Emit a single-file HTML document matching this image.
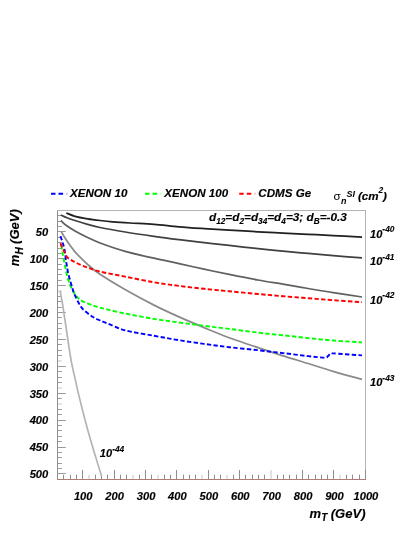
<!DOCTYPE html>
<html><head><meta charset="utf-8"><title>plot</title>
<style>
html,body{margin:0;padding:0;background:#fff;}
body{width:415px;height:537px;overflow:hidden;}
svg{display:block;will-change:transform;font-family:"Liberation Sans",sans-serif;font-weight:bold;font-style:italic;fill:#000;}
text{stroke:#000;stroke-width:0.15px;}
</style></head><body>
<svg width="415" height="537" viewBox="0 0 415 537">
<rect width="415" height="537" fill="#fff"/>
<line x1="57.5" y1="210" x2="57.5" y2="480" stroke="#8e8e8e" stroke-width="1"/>
<line x1="57" y1="210.5" x2="366" y2="210.5" stroke="#b4b4b4" stroke-width="1"/>
<line x1="365.5" y1="210" x2="365.5" y2="480" stroke="#b2b2b2" stroke-width="1"/>
<line x1="57" y1="479.5" x2="366" y2="479.5" stroke="#b07a76" stroke-width="1"/>
<line x1="58" y1="215.50" x2="61.80" y2="215.50" stroke="#9a9a9a" stroke-width="1"/>
<line x1="58" y1="221.50" x2="61.80" y2="221.50" stroke="#9a9a9a" stroke-width="1"/>
<line x1="58" y1="226.50" x2="61.80" y2="226.50" stroke="#9a9a9a" stroke-width="1"/>
<line x1="58" y1="231.50" x2="65.80" y2="231.50" stroke="#9a9a9a" stroke-width="1"/>
<line x1="58" y1="237.50" x2="61.80" y2="237.50" stroke="#9a9a9a" stroke-width="1"/>
<line x1="58" y1="242.50" x2="61.80" y2="242.50" stroke="#9a9a9a" stroke-width="1"/>
<line x1="58" y1="248.50" x2="61.80" y2="248.50" stroke="#9a9a9a" stroke-width="1"/>
<line x1="58" y1="253.50" x2="61.80" y2="253.50" stroke="#9a9a9a" stroke-width="1"/>
<line x1="58" y1="258.50" x2="65.80" y2="258.50" stroke="#9a9a9a" stroke-width="1"/>
<line x1="58" y1="264.50" x2="61.80" y2="264.50" stroke="#9a9a9a" stroke-width="1"/>
<line x1="58" y1="269.50" x2="61.80" y2="269.50" stroke="#9a9a9a" stroke-width="1"/>
<line x1="58" y1="274.50" x2="61.80" y2="274.50" stroke="#9a9a9a" stroke-width="1"/>
<line x1="58" y1="280.50" x2="61.80" y2="280.50" stroke="#9a9a9a" stroke-width="1"/>
<line x1="58" y1="285.50" x2="65.80" y2="285.50" stroke="#9a9a9a" stroke-width="1"/>
<line x1="58" y1="291.00" x2="61.80" y2="291.00" stroke="#e2e2e2" stroke-width="2"/>
<line x1="58" y1="296.50" x2="61.80" y2="296.50" stroke="#9a9a9a" stroke-width="1"/>
<line x1="58" y1="301.50" x2="61.80" y2="301.50" stroke="#9a9a9a" stroke-width="1"/>
<line x1="58" y1="307.50" x2="61.80" y2="307.50" stroke="#9a9a9a" stroke-width="1"/>
<line x1="58" y1="312.50" x2="65.80" y2="312.50" stroke="#9a9a9a" stroke-width="1"/>
<line x1="58" y1="317.50" x2="61.80" y2="317.50" stroke="#9a9a9a" stroke-width="1"/>
<line x1="58" y1="323.50" x2="61.80" y2="323.50" stroke="#9a9a9a" stroke-width="1"/>
<line x1="58" y1="328.50" x2="61.80" y2="328.50" stroke="#9a9a9a" stroke-width="1"/>
<line x1="58" y1="334.00" x2="61.80" y2="334.00" stroke="#e2e2e2" stroke-width="2"/>
<line x1="58" y1="339.50" x2="65.80" y2="339.50" stroke="#9a9a9a" stroke-width="1"/>
<line x1="58" y1="344.50" x2="61.80" y2="344.50" stroke="#9a9a9a" stroke-width="1"/>
<line x1="58" y1="350.50" x2="61.80" y2="350.50" stroke="#9a9a9a" stroke-width="1"/>
<line x1="58" y1="355.50" x2="61.80" y2="355.50" stroke="#9a9a9a" stroke-width="1"/>
<line x1="58" y1="361.00" x2="61.80" y2="361.00" stroke="#e2e2e2" stroke-width="2"/>
<line x1="58" y1="366.50" x2="65.80" y2="366.50" stroke="#9a9a9a" stroke-width="1"/>
<line x1="58" y1="371.50" x2="61.80" y2="371.50" stroke="#9a9a9a" stroke-width="1"/>
<line x1="58" y1="377.50" x2="61.80" y2="377.50" stroke="#9a9a9a" stroke-width="1"/>
<line x1="58" y1="382.50" x2="61.80" y2="382.50" stroke="#9a9a9a" stroke-width="1"/>
<line x1="58" y1="388.00" x2="61.80" y2="388.00" stroke="#e2e2e2" stroke-width="2"/>
<line x1="58" y1="393.50" x2="65.80" y2="393.50" stroke="#9a9a9a" stroke-width="1"/>
<line x1="58" y1="398.50" x2="61.80" y2="398.50" stroke="#9a9a9a" stroke-width="1"/>
<line x1="58" y1="404.00" x2="61.80" y2="404.00" stroke="#e2e2e2" stroke-width="2"/>
<line x1="58" y1="409.50" x2="61.80" y2="409.50" stroke="#9a9a9a" stroke-width="1"/>
<line x1="58" y1="414.50" x2="61.80" y2="414.50" stroke="#9a9a9a" stroke-width="1"/>
<line x1="58" y1="420.50" x2="65.80" y2="420.50" stroke="#9a9a9a" stroke-width="1"/>
<line x1="58" y1="425.50" x2="61.80" y2="425.50" stroke="#9a9a9a" stroke-width="1"/>
<line x1="58" y1="430.50" x2="61.80" y2="430.50" stroke="#9a9a9a" stroke-width="1"/>
<line x1="58" y1="436.50" x2="61.80" y2="436.50" stroke="#9a9a9a" stroke-width="1"/>
<line x1="58" y1="441.50" x2="61.80" y2="441.50" stroke="#9a9a9a" stroke-width="1"/>
<line x1="58" y1="447.50" x2="65.80" y2="447.50" stroke="#9a9a9a" stroke-width="1"/>
<line x1="58" y1="452.50" x2="61.80" y2="452.50" stroke="#9a9a9a" stroke-width="1"/>
<line x1="58" y1="457.50" x2="61.80" y2="457.50" stroke="#9a9a9a" stroke-width="1"/>
<line x1="58" y1="463.50" x2="61.80" y2="463.50" stroke="#9a9a9a" stroke-width="1"/>
<line x1="58" y1="468.50" x2="61.80" y2="468.50" stroke="#9a9a9a" stroke-width="1"/>
<line x1="58" y1="473.50" x2="65.80" y2="473.50" stroke="#9a9a9a" stroke-width="1"/>
<line x1="63.50" y1="479" x2="63.50" y2="474.70" stroke="#8e8e8e" stroke-width="1"/>
<line x1="70.50" y1="479" x2="70.50" y2="474.70" stroke="#8e8e8e" stroke-width="1"/>
<line x1="76.50" y1="479" x2="76.50" y2="474.70" stroke="#8e8e8e" stroke-width="1"/>
<line x1="82.50" y1="479" x2="82.50" y2="470.00" stroke="#8e8e8e" stroke-width="1"/>
<line x1="89.00" y1="479" x2="89.00" y2="474.70" stroke="#e2e2e2" stroke-width="2"/>
<line x1="95.50" y1="479" x2="95.50" y2="474.70" stroke="#8e8e8e" stroke-width="1"/>
<line x1="101.50" y1="479" x2="101.50" y2="474.70" stroke="#8e8e8e" stroke-width="1"/>
<line x1="107.50" y1="479" x2="107.50" y2="474.70" stroke="#8e8e8e" stroke-width="1"/>
<line x1="114.50" y1="479" x2="114.50" y2="470.00" stroke="#8e8e8e" stroke-width="1"/>
<line x1="120.50" y1="479" x2="120.50" y2="474.70" stroke="#8e8e8e" stroke-width="1"/>
<line x1="126.50" y1="479" x2="126.50" y2="474.70" stroke="#8e8e8e" stroke-width="1"/>
<line x1="133.00" y1="479" x2="133.00" y2="474.70" stroke="#e2e2e2" stroke-width="2"/>
<line x1="139.50" y1="479" x2="139.50" y2="474.70" stroke="#8e8e8e" stroke-width="1"/>
<line x1="145.50" y1="479" x2="145.50" y2="470.00" stroke="#8e8e8e" stroke-width="1"/>
<line x1="151.50" y1="479" x2="151.50" y2="474.70" stroke="#8e8e8e" stroke-width="1"/>
<line x1="158.00" y1="479" x2="158.00" y2="474.70" stroke="#e2e2e2" stroke-width="2"/>
<line x1="164.50" y1="479" x2="164.50" y2="474.70" stroke="#8e8e8e" stroke-width="1"/>
<line x1="170.50" y1="479" x2="170.50" y2="474.70" stroke="#8e8e8e" stroke-width="1"/>
<line x1="176.50" y1="479" x2="176.50" y2="470.00" stroke="#8e8e8e" stroke-width="1"/>
<line x1="183.50" y1="479" x2="183.50" y2="474.70" stroke="#8e8e8e" stroke-width="1"/>
<line x1="189.50" y1="479" x2="189.50" y2="474.70" stroke="#8e8e8e" stroke-width="1"/>
<line x1="195.50" y1="479" x2="195.50" y2="474.70" stroke="#8e8e8e" stroke-width="1"/>
<line x1="202.00" y1="479" x2="202.00" y2="474.70" stroke="#e2e2e2" stroke-width="2"/>
<line x1="208.50" y1="479" x2="208.50" y2="470.00" stroke="#8e8e8e" stroke-width="1"/>
<line x1="214.50" y1="479" x2="214.50" y2="474.70" stroke="#8e8e8e" stroke-width="1"/>
<line x1="220.50" y1="479" x2="220.50" y2="474.70" stroke="#8e8e8e" stroke-width="1"/>
<line x1="227.00" y1="479" x2="227.00" y2="474.70" stroke="#e2e2e2" stroke-width="2"/>
<line x1="233.50" y1="479" x2="233.50" y2="474.70" stroke="#8e8e8e" stroke-width="1"/>
<line x1="239.50" y1="479" x2="239.50" y2="470.00" stroke="#8e8e8e" stroke-width="1"/>
<line x1="245.50" y1="479" x2="245.50" y2="474.70" stroke="#8e8e8e" stroke-width="1"/>
<line x1="252.50" y1="479" x2="252.50" y2="474.70" stroke="#8e8e8e" stroke-width="1"/>
<line x1="258.50" y1="479" x2="258.50" y2="474.70" stroke="#8e8e8e" stroke-width="1"/>
<line x1="264.50" y1="479" x2="264.50" y2="474.70" stroke="#8e8e8e" stroke-width="1"/>
<line x1="271.00" y1="479" x2="271.00" y2="470.00" stroke="#e2e2e2" stroke-width="2"/>
<line x1="277.50" y1="479" x2="277.50" y2="474.70" stroke="#8e8e8e" stroke-width="1"/>
<line x1="283.50" y1="479" x2="283.50" y2="474.70" stroke="#8e8e8e" stroke-width="1"/>
<line x1="289.50" y1="479" x2="289.50" y2="474.70" stroke="#8e8e8e" stroke-width="1"/>
<line x1="296.50" y1="479" x2="296.50" y2="474.70" stroke="#8e8e8e" stroke-width="1"/>
<line x1="302.50" y1="479" x2="302.50" y2="470.00" stroke="#8e8e8e" stroke-width="1"/>
<line x1="308.50" y1="479" x2="308.50" y2="474.70" stroke="#8e8e8e" stroke-width="1"/>
<line x1="315.50" y1="479" x2="315.50" y2="474.70" stroke="#8e8e8e" stroke-width="1"/>
<line x1="321.50" y1="479" x2="321.50" y2="474.70" stroke="#8e8e8e" stroke-width="1"/>
<line x1="327.50" y1="479" x2="327.50" y2="474.70" stroke="#8e8e8e" stroke-width="1"/>
<line x1="333.50" y1="479" x2="333.50" y2="470.00" stroke="#8e8e8e" stroke-width="1"/>
<line x1="340.00" y1="479" x2="340.00" y2="474.70" stroke="#e2e2e2" stroke-width="2"/>
<line x1="346.50" y1="479" x2="346.50" y2="474.70" stroke="#8e8e8e" stroke-width="1"/>
<line x1="352.50" y1="479" x2="352.50" y2="474.70" stroke="#8e8e8e" stroke-width="1"/>
<line x1="359.50" y1="479" x2="359.50" y2="474.70" stroke="#8e8e8e" stroke-width="1"/>
<line x1="365.50" y1="479" x2="365.50" y2="470.00" stroke="#8e8e8e" stroke-width="1"/>
<path d="M66.30 213.00 C67.75 213.55 71.45 215.33 75.00 216.30 C78.55 217.27 83.42 218.10 87.60 218.80 C91.78 219.50 95.92 220.00 100.10 220.50 C104.28 221.00 107.72 221.38 112.70 221.80 C117.68 222.22 123.12 222.58 130.00 223.00 C136.88 223.42 145.83 223.67 154.00 224.30 C162.17 224.93 170.65 226.08 179.00 226.80 C187.35 227.52 195.73 228.05 204.10 228.60 C212.47 229.15 220.22 229.57 229.20 230.10 C238.18 230.63 249.03 231.30 258.00 231.80 C266.97 232.30 274.65 232.68 283.00 233.10 C291.35 233.52 299.73 233.88 308.10 234.30 C316.47 234.72 324.22 235.13 333.20 235.60 C342.18 236.07 357.20 236.85 362.00 237.10" fill="none" stroke="#202020" stroke-width="1.75" stroke-linecap="butt" stroke-linejoin="round"/>
<path d="M60.80 215.00 C61.83 215.47 64.63 216.88 67.00 217.80 C69.37 218.72 71.57 219.42 75.00 220.50 C78.43 221.58 83.43 223.13 87.60 224.30 C91.77 225.47 93.73 226.22 100.00 227.50 C106.27 228.78 116.20 230.53 125.20 232.00 C134.20 233.47 145.03 235.03 154.00 236.30 C162.97 237.57 170.65 238.55 179.00 239.60 C187.35 240.65 195.73 241.63 204.10 242.60 C212.47 243.57 220.22 244.40 229.20 245.40 C238.18 246.40 249.03 247.65 258.00 248.60 C266.97 249.55 274.65 250.30 283.00 251.10 C291.35 251.90 299.73 252.65 308.10 253.40 C316.47 254.15 324.22 254.85 333.20 255.60 C342.18 256.35 357.20 257.52 362.00 257.90" fill="none" stroke="#404040" stroke-width="1.75" stroke-linecap="butt" stroke-linejoin="round"/>
<path d="M60.80 220.50 C61.62 221.25 63.33 223.25 65.70 225.00 C68.07 226.75 71.35 228.92 75.00 231.00 C78.65 233.08 83.42 235.50 87.60 237.50 C91.78 239.50 93.83 240.68 100.10 243.00 C106.37 245.32 116.22 248.87 125.20 251.40 C134.18 253.93 145.03 256.17 154.00 258.20 C162.97 260.23 170.65 261.77 179.00 263.60 C187.35 265.43 195.73 267.40 204.10 269.20 C212.47 271.00 220.22 272.60 229.20 274.40 C238.18 276.20 249.03 278.37 258.00 280.00 C266.97 281.63 274.65 282.78 283.00 284.20 C291.35 285.62 299.73 287.08 308.10 288.50 C316.47 289.92 324.22 291.28 333.20 292.70 C342.18 294.12 357.20 296.28 362.00 297.00" fill="none" stroke="#606060" stroke-width="1.75" stroke-linecap="butt" stroke-linejoin="round"/>
<path d="M61.30 231.60 C62.13 233.00 64.02 236.63 66.30 240.00 C68.58 243.37 71.45 247.73 75.00 251.80 C78.55 255.87 83.43 260.65 87.60 264.40 C91.77 268.15 93.77 270.12 100.00 274.30 C106.23 278.48 116.00 284.37 125.00 289.50 C134.00 294.63 145.00 300.53 154.00 305.10 C163.00 309.67 170.65 313.15 179.00 316.90 C187.35 320.65 195.73 324.13 204.10 327.60 C212.47 331.07 220.22 334.37 229.20 337.70 C238.18 341.03 249.03 344.58 258.00 347.60 C266.97 350.62 274.65 353.15 283.00 355.80 C291.35 358.45 299.73 360.90 308.10 363.50 C316.47 366.10 324.22 368.75 333.20 371.40 C342.18 374.05 357.20 378.07 362.00 379.40" fill="none" stroke="#8a8a8a" stroke-width="1.75" stroke-linecap="butt" stroke-linejoin="round"/>
<path d="M60.20 291.00 C60.38 292.05 60.92 295.17 61.30 297.30 C61.68 299.43 61.98 300.63 62.50 303.80 C63.02 306.97 63.77 312.12 64.40 316.30 C65.03 320.48 65.67 324.62 66.30 328.90 C66.93 333.18 67.37 336.60 68.20 342.00 C69.03 347.40 70.15 355.17 71.30 361.30 C72.45 367.43 73.85 373.17 75.10 378.80 C76.35 384.43 77.42 389.32 78.80 395.10 C80.18 400.88 81.73 407.05 83.40 413.50 C85.07 419.95 86.85 426.87 88.80 433.80 C90.75 440.73 92.97 448.03 95.10 455.10 C97.23 462.17 100.52 472.68 101.60 476.20" fill="none" stroke="#b4b4b4" stroke-width="1.7" stroke-linecap="butt" stroke-linejoin="round"/>
<path d="M61.30 245.00 C61.50 246.27 61.98 249.67 62.50 252.60 C63.02 255.53 63.77 259.27 64.40 262.60 C65.03 265.93 65.57 269.47 66.30 272.60 C67.03 275.73 68.07 279.07 68.80 281.40 C69.53 283.73 69.87 284.75 70.70 286.60 C71.53 288.45 72.65 290.68 73.80 292.50 C74.95 294.32 76.13 296.03 77.60 297.50 C79.07 298.97 80.52 300.15 82.60 301.30 C84.68 302.45 87.60 303.47 90.10 304.40 C92.60 305.33 94.78 306.07 97.60 306.90 C100.42 307.73 102.43 308.30 107.00 309.40 C111.57 310.50 117.17 311.92 125.00 313.50 C132.83 315.08 145.00 317.40 154.00 318.90 C163.00 320.40 170.65 321.35 179.00 322.50 C187.35 323.65 195.73 324.73 204.10 325.80 C212.47 326.87 220.22 327.77 229.20 328.90 C238.18 330.03 249.03 331.53 258.00 332.60 C266.97 333.67 274.67 334.38 283.00 335.30 C291.33 336.22 299.63 337.23 308.00 338.10 C316.37 338.97 324.20 339.78 333.20 340.50 C342.20 341.22 357.20 342.08 362.00 342.40" fill="none" stroke="#00ff00" stroke-width="1.9" stroke-dasharray="4.4 2.3" stroke-linejoin="round"/>
<path d="M60.40 236.10 C60.67 236.83 61.52 239.07 62.00 240.50 C62.48 241.93 62.90 243.28 63.30 244.70 C63.70 246.12 64.08 247.45 64.40 249.00 C64.72 250.55 64.95 252.17 65.20 254.00 C65.45 255.83 65.60 257.92 65.90 260.00 C66.20 262.08 66.65 264.42 67.00 266.50 C67.35 268.58 67.47 270.15 68.00 272.50 C68.53 274.85 69.48 278.02 70.20 280.60 C70.92 283.18 71.65 285.88 72.30 288.00 C72.95 290.12 73.17 291.05 74.10 293.30 C75.03 295.55 76.48 298.92 77.90 301.50 C79.32 304.08 80.57 306.53 82.60 308.80 C84.63 311.07 87.60 313.32 90.10 315.10 C92.60 316.88 94.78 318.15 97.60 319.50 C100.42 320.85 102.43 321.40 107.00 323.20 C111.57 325.00 117.17 328.20 125.00 330.30 C132.83 332.40 145.00 334.15 154.00 335.80 C163.00 337.45 170.65 338.85 179.00 340.20 C187.35 341.55 195.73 342.73 204.10 343.90 C212.47 345.07 220.22 346.15 229.20 347.20 C238.18 348.25 249.03 349.22 258.00 350.20 C266.97 351.18 274.65 352.12 283.00 353.10 C291.35 354.08 301.17 355.33 308.10 356.10 C315.03 356.87 321.35 357.65 324.60 357.70 C327.85 357.75 326.63 357.07 327.60 356.40 C328.57 355.73 329.50 354.20 330.40 353.70 C331.30 353.20 330.57 353.32 333.00 353.40 C335.43 353.48 340.17 353.87 345.00 354.20 C349.83 354.53 359.17 355.20 362.00 355.40" fill="none" stroke="#0000ff" stroke-width="1.9" stroke-dasharray="4.4 2.3" stroke-linejoin="round"/>
<path d="M60.50 243.20 C60.80 243.97 61.73 246.50 62.30 247.80 C62.87 249.10 63.37 249.93 63.90 251.00 C64.43 252.07 65.00 253.22 65.50 254.20 C66.00 255.18 66.27 256.12 66.90 256.90 C67.53 257.68 68.27 258.20 69.30 258.90 C70.33 259.60 72.05 260.52 73.10 261.10 C74.15 261.68 74.55 261.87 75.60 262.40 C76.65 262.93 77.40 263.43 79.40 264.30 C81.40 265.17 84.17 266.38 87.60 267.60 C91.03 268.82 93.77 270.10 100.00 271.60 C106.23 273.10 116.00 274.82 125.00 276.60 C134.00 278.38 145.00 280.75 154.00 282.30 C163.00 283.85 170.65 284.82 179.00 285.90 C187.35 286.98 195.73 287.90 204.10 288.80 C212.47 289.70 220.22 290.43 229.20 291.30 C238.18 292.17 249.03 293.18 258.00 294.00 C266.97 294.82 274.65 295.50 283.00 296.20 C291.35 296.90 299.73 297.53 308.10 298.20 C316.47 298.87 324.22 299.53 333.20 300.20 C342.18 300.87 357.20 301.87 362.00 302.20" fill="none" stroke="#ff0000" stroke-width="1.9" stroke-dasharray="4.4 2.3" stroke-linejoin="round"/>
<path d="M51.00 193.8h4.5m3 0h4.6" stroke="#0000ff" stroke-width="1.9"/>
<path d="M66.00 193.8h2" stroke="#c8c8ff" stroke-width="1.9"/>
<path d="M145.00 193.8h4.5m3 0h4.6" stroke="#00ff00" stroke-width="1.9"/>
<path d="M160.00 193.8h2" stroke="#c8ffc8" stroke-width="1.9"/>
<path d="M239.20 193.8h4.5m3 0h4.6" stroke="#ff0000" stroke-width="1.9"/>
<path d="M254.20 193.8h2" stroke="#ffc8c8" stroke-width="1.9"/>
<text x="70.00" y="196.80" font-size="11.6" text-anchor="start" >XENON 10</text>
<text x="164.30" y="196.80" font-size="11.6" text-anchor="start" >XENON 100</text>
<text x="258.30" y="196.80" font-size="11.6" text-anchor="start" >CDMS Ge</text>
<text font-size="11.6"><tspan x="333.6" y="199.5" font-weight="normal" font-style="normal" stroke-width="0">σ</tspan><tspan x="341.0" y="203.6" font-size="9" stroke-width="0">n</tspan><tspan x="346.4" y="196.9" font-size="9" stroke-width="0">SI</tspan><tspan x="358.0" y="199.5">(cm</tspan><tspan x="378.5" y="193.4" font-size="8.5" stroke-width="0">2</tspan><tspan x="383.0" y="199.5">)</tspan></text>
<text x="209" y="220.9" font-size="11.8">d<tspan font-size="8.2" dy="3.4">12</tspan><tspan dy="-3.4">=d</tspan><tspan font-size="8.2" dy="3.4">2</tspan><tspan dy="-3.4">=d</tspan><tspan font-size="8.2" dy="3.4">34</tspan><tspan dy="-3.4">=d</tspan><tspan font-size="8.2" dy="3.4">4</tspan><tspan dy="-3.4">=3; d</tspan><tspan font-size="8.2" dy="3.4">B</tspan><tspan dy="-3.4">=-0.3</tspan></text>
<text x="48.30" y="236.20" font-size="11.2" text-anchor="end" >50</text>
<text x="48.30" y="263.09" font-size="11.2" text-anchor="end" >100</text>
<text x="48.30" y="289.98" font-size="11.2" text-anchor="end" >150</text>
<text x="48.30" y="316.87" font-size="11.2" text-anchor="end" >200</text>
<text x="48.30" y="343.76" font-size="11.2" text-anchor="end" >250</text>
<text x="48.30" y="370.65" font-size="11.2" text-anchor="end" >300</text>
<text x="48.30" y="397.54" font-size="11.2" text-anchor="end" >350</text>
<text x="48.30" y="424.43" font-size="11.2" text-anchor="end" >400</text>
<text x="48.30" y="451.32" font-size="11.2" text-anchor="end" >450</text>
<text x="48.30" y="478.21" font-size="11.2" text-anchor="end" >500</text>
<text x="83.23" y="499.80" font-size="11.2" text-anchor="middle" >100</text>
<text x="114.63" y="499.80" font-size="11.2" text-anchor="middle" >200</text>
<text x="146.04" y="499.80" font-size="11.2" text-anchor="middle" >300</text>
<text x="177.45" y="499.80" font-size="11.2" text-anchor="middle" >400</text>
<text x="208.86" y="499.80" font-size="11.2" text-anchor="middle" >500</text>
<text x="240.27" y="499.80" font-size="11.2" text-anchor="middle" >600</text>
<text x="271.67" y="499.80" font-size="11.2" text-anchor="middle" >700</text>
<text x="303.08" y="499.80" font-size="11.2" text-anchor="middle" >800</text>
<text x="334.49" y="499.80" font-size="11.2" text-anchor="middle" >900</text>
<text x="365.90" y="499.80" font-size="11.2" text-anchor="middle" >1000</text>
<text x="370.00" y="237.60" font-size="11.1">10<tspan font-size="8.4" dy="-5.6" dx="0" stroke-width="0.1">-40</tspan></text>
<text x="370.00" y="265.20" font-size="11.1">10<tspan font-size="8.4" dy="-5.6" dx="0" stroke-width="0.1">-41</tspan></text>
<text x="370.00" y="303.60" font-size="11.1">10<tspan font-size="8.4" dy="-5.6" dx="0" stroke-width="0.1">-42</tspan></text>
<text x="370.00" y="386.10" font-size="11.1">10<tspan font-size="8.4" dy="-5.6" dx="0" stroke-width="0.1">-43</tspan></text>
<text x="99.80" y="457.40" font-size="11.1">10<tspan font-size="8.4" dy="-5.6" dx="0" stroke-width="0.1">-44</tspan></text>
<text x="309.4" y="517.6" font-size="13">m<tspan font-size="10" dy="3.7" dx="0.3">T</tspan><tspan dy="-3.7" dx="-0.2"> (GeV)</tspan></text>
<text transform="translate(18.9,266.3) rotate(-90)" font-size="13">m<tspan font-size="10" dy="3.9" dx="0.3">H</tspan><tspan dy="-3.9" dx="-0.3"> (GeV)</tspan></text>
</svg>
</body></html>
